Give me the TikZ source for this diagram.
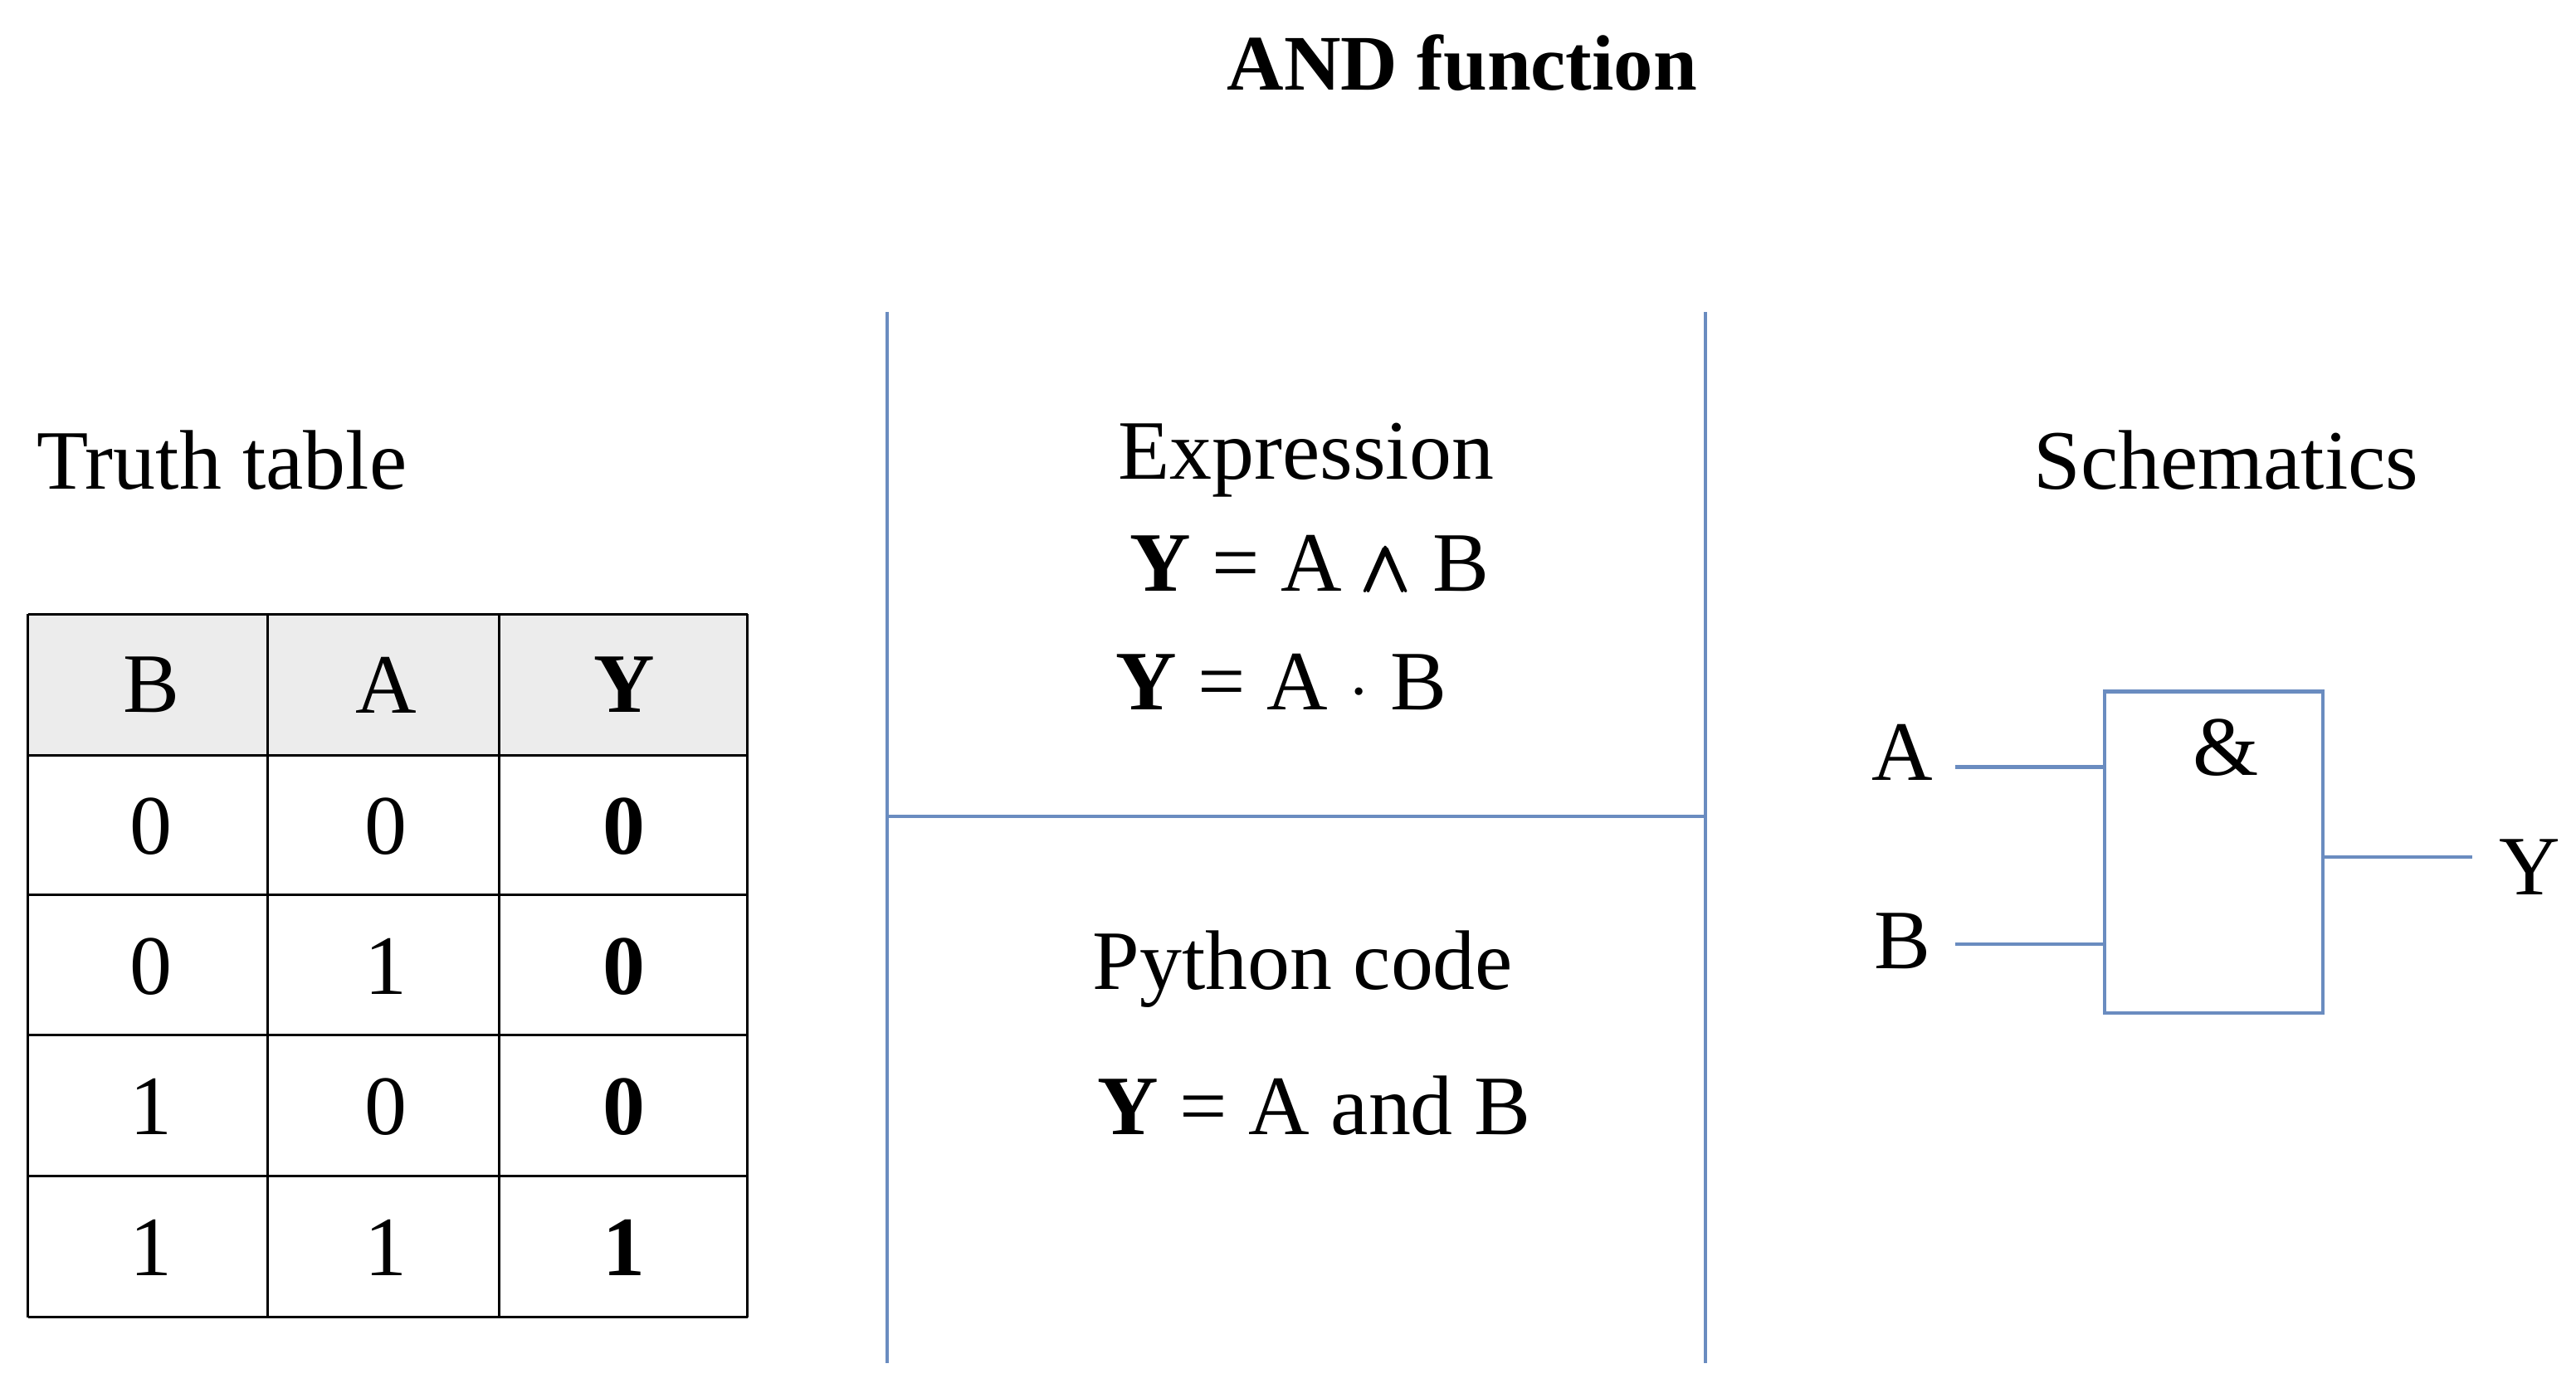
\documentclass[tikz,border=0pt]{standalone}
\usepackage{amsmath}
\usepackage{fontspec}
\setmainfont{Liberation Serif}
\usetikzlibrary{positioning}
\definecolor{panelblue}{HTML}{6A8CC0}
\begin{document}
\begin{tikzpicture}[%
    x=0.0198cm, y=-0.0198cm,
    txt/.style={font=\fontsize{29}{34}\selectfont, inner sep=0pt},
    panel/.style={draw=panelblue, very thick},
]
\useasboundingbox (0,0) rectangle (1568,845);

% Title
\node[txt, font=\fontsize{27}{32}\selectfont\bfseries] (title) at (890,38) {AND function};

% Truth table
\node[txt] (ttitle) at (135,280) {Truth table};
\fill[gray!15] (17,374) rectangle (455,460);
\foreach \y in {374,460,545,630,716,802} \draw[thick] (17,\y) -- (455,\y);
\foreach \x in {17,163,304,455} \draw[thick] (\x,374) -- (\x,802);
\node[txt] (hb) at (92,417) {B};
\node[txt] (ha) at (235,417) {A};
\node[txt] (hy) at (380,417) {\textbf{Y}};
\foreach \b/\a/\r [count=\i] in {0/0/0,0/1/0,1/0/0,1/1/1} {
  \pgfmathsetmacro{\yy}{460+(\i-1)*85.5+43}
  \node[txt] (b\i) at (92,\yy) {\b};
  \node[txt] (a\i) at (235,\yy) {\a};
  \node[txt] (y\i) at (380,\yy) {\textbf{\r}};
}

% Panels
\coordinate (l1) at (540,190); \coordinate (l2) at (540,830);
\coordinate (r1) at (1038,190); \coordinate (r2) at (1038,830);
\coordinate (m1) at (540,497); \coordinate (m2) at (1038,497);
\draw[panel] (l1) -- (l2);
\draw[panel] (r1) -- (r2);
\draw[panel] (m1) -- (m2);

% Expression
\node[txt] (expr) at (795,280) {Expression};
\node[txt] (exp1) at (797,343) {\textbf{Y} = A $\pmb{\wedge}$ B};
\node[txt] (exp2) at (780,415) {\textbf{Y} = A $\cdot$ B};
\node[txt] (py) at (793,590) {Python code};
\node[txt] (pyc) at (800,673) {\textbf{Y} = A and B};

% Schematics
\node[txt] (schem) at (1355,280) {Schematics};
\node[panel, minimum width=2.63cm, minimum height=3.88cm, inner sep=0pt] (gate) at (1347.5,519) {};
\node[txt] (amp) at (1355,455) {\&};
\node[txt] (ina) at (1158,458) {A};
\node[txt] (inb) at (1158,573) {B};
\node[txt] (outy) at (1540,528) {Y};
\coordinate (pa) at (1281,467); \coordinate (pb) at (1281,575); \coordinate (py0) at (1414,522);
\coordinate (sa) at (1190,467); \coordinate (sb) at (1190,575); \coordinate (ey) at (1505,522);
\draw[panel] (sa) -- (pa);
\draw[panel] (sb) -- (pb);
\draw[panel] (py0) -- (ey);
\end{tikzpicture}
\end{document}
